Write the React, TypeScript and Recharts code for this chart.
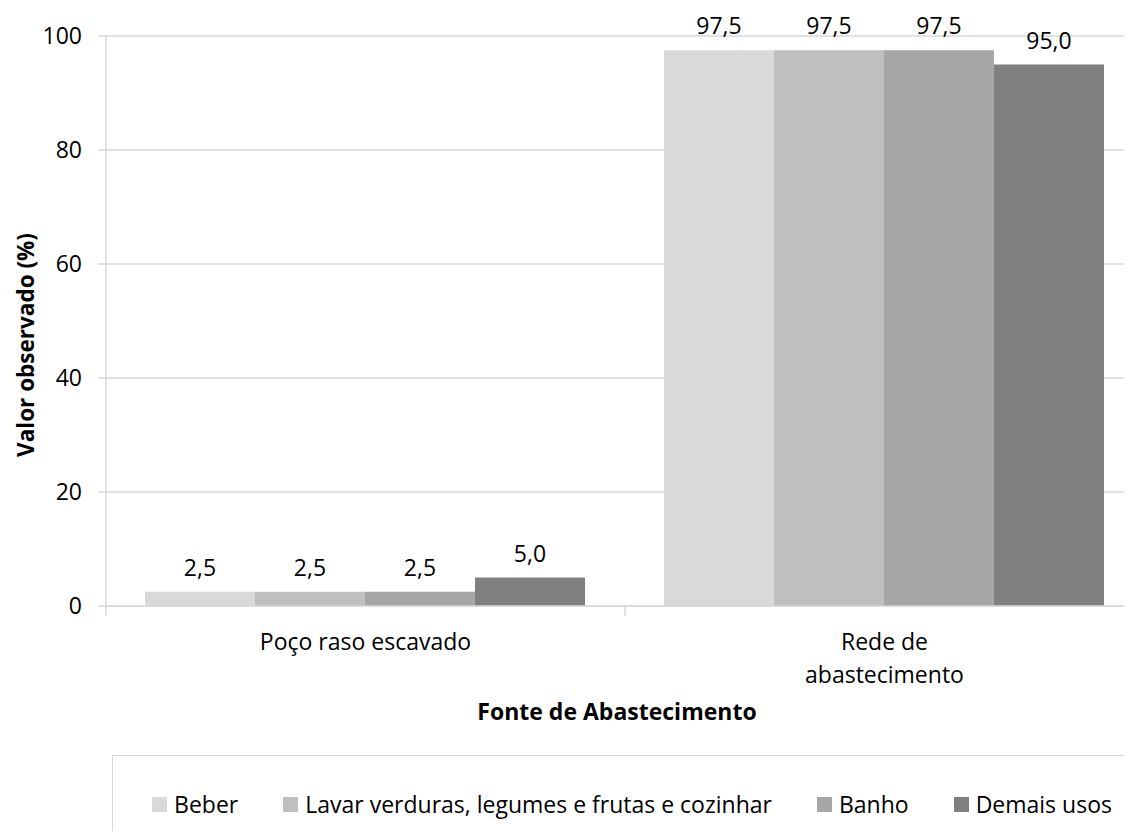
import { BarChart, Bar, XAxis, YAxis, CartesianGrid, LabelList, Legend } from "recharts";

const categories = ["Poço raso escavado", "Rede de abastecimento"];
const seriesNames = ["Beber", "Lavar verduras, legumes e frutas e cozinhar", "Banho", "Demais usos"];
const beber = [2.5, 97.5];
const lavar = [2.5, 97.5];
const banho = [2.5, 97.5];
const demais = [5.0, 95.0];
const yTicks = [0, 20, 40, 60, 80, 100];

const seriesColors = ["#d9d9d9", "#bfbfbf", "#a6a6a6", "#808080"];
const seriesKeys = ["beber", "lavar", "banho", "demais"];

const data = categories.map((name, i) => ({
  name,
  beber: beber[i],
  lavar: lavar[i],
  banho: banho[i],
  demais: demais[i],
}));

const FONT = "'Open Sans', sans-serif";
const TEXT = "#000000";
const GRID = "#d9d9d9";

const fmt = (v: unknown) => Number(v).toFixed(1).replace(".", ",");

function wrapLabel(text: string): string[] {
  if (text.length <= 18) return [text];
  const words = text.split(" ");
  const lines: string[] = [];
  let cur = "";
  for (const w of words) {
    const next = cur ? cur + " " + w : w;
    if (next.length > 13 && cur) {
      lines.push(cur);
      cur = w;
    } else {
      cur = next;
    }
  }
  if (cur) lines.push(cur);
  return lines;
}

function CategoryTick(props: any) {
  const { x, y, payload, width } = props;
  const half = payload.offset ?? width / categories.length / 2;
  const lines = wrapLabel(String(payload.value));
  return (
    <g>
      <line x1={x - half} x2={x - half} y1={y} y2={y + 10} stroke={GRID} strokeWidth={1.5} />
      <text x={x} y={y + 44} textAnchor="middle" fill={TEXT} fontSize={23} fontFamily={FONT}>
        {lines.map((l, i) => (
          <tspan key={i} x={x} dy={i === 0 ? 0 : 33}>
            {l}
          </tspan>
        ))}
      </text>
    </g>
  );
}

function XTitle({ viewBox }: any) {
  const cx = viewBox.x + viewBox.width / 2 - 8;
  return (
    <text x={cx} y={viewBox.y + 114} textAnchor="middle" fill={TEXT} fontSize={23} fontWeight={700} fontFamily={FONT}>
      Fonte de Abastecimento
    </text>
  );
}

function YTitle({ viewBox }: any) {
  const bx = viewBox.x + 34;
  const cy = viewBox.y + viewBox.height / 2 + 24;
  return (
    <text
      x={bx}
      y={cy}
      transform={`rotate(-90, ${bx}, ${cy})`}
      textAnchor="middle"
      fill={TEXT}
      fontSize={22.5}
      fontWeight={700}
      fontFamily={FONT}
    >
      Valor observado (%)
    </text>
  );
}

function LegendBox({ payload }: any) {
  // keep the series order, not the alphabetical one
  const items = [...(payload || [])].sort(
    (a: any, b: any) => seriesNames.indexOf(a.value) - seriesNames.indexOf(b.value)
  );
  return (
    <div
      style={{
        border: `1.5px solid ${GRID}`,
        height: 98,
        width: 1040,
        boxSizing: "border-box",
        display: "flex",
        alignItems: "center",
        justifyContent: "center",
        gap: 45,
        fontFamily: FONT,
        fontSize: 23,
        color: TEXT,
        background: "#fff",
      }}
    >
      {items.map((p: any) => (
        <div key={p.value} style={{ display: "flex", alignItems: "center", gap: 7, whiteSpace: "nowrap" }}>
          <span style={{ width: 15, height: 15, background: p.color, display: "inline-block" }} />
          <span>{p.value}</span>
        </div>
      ))}
    </div>
  );
}

export default function App() {
  return (
    <div style={{ margin: -8, width: 1132, height: 839, overflow: "hidden", position: "relative", background: "#fff" }}>
      <BarChart
        width={1160}
        height={839}
        data={data}
        margin={{ top: 36, right: 16, left: 0, bottom: 103 }}
        barCategoryGap={39}
        barGap={0}
      >
        <CartesianGrid vertical={false} stroke={GRID} strokeWidth={1.5} />
        <XAxis
          dataKey="name"
          height={130}
          axisLine={{ stroke: GRID, strokeWidth: 1.5 }}
          tickLine={false}
          tickSize={0}
          tickMargin={0}
          tick={<CategoryTick />}
          interval={0}
          label={<XTitle />}
        />
        <YAxis
          width={106}
          domain={[0, 100]}
          ticks={yTicks}
          axisLine={{ stroke: GRID, strokeWidth: 1.5 }}
          tickLine={{ stroke: GRID, strokeWidth: 1.5 }}
          tickSize={8}
          tickMargin={16}
          tick={{ fill: TEXT, fontSize: 23, fontFamily: FONT }}
          label={<YTitle />}
        />
        <Legend
          layout="horizontal"
          verticalAlign="middle"
          align="center"
          wrapperStyle={{ left: 112, top: 755, width: 1040, height: 98 }}
          content={<LegendBox />}
        />
        {seriesKeys.map((k, i) => (
          <Bar key={k} dataKey={k} name={seriesNames[i]} fill={seriesColors[i]} isAnimationActive={false}>
            <LabelList dataKey={k} position="top" offset={16} formatter={fmt} fill={TEXT} fontSize={23} fontFamily={FONT} />
          </Bar>
        ))}
      </BarChart>
    </div>
  );
}
